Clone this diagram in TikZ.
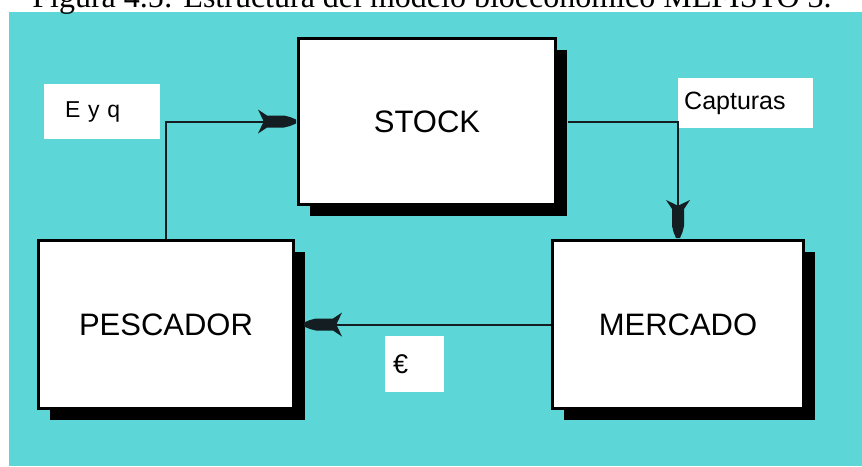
\documentclass[tikz,border=0pt]{standalone}
\usepackage{fontspec}
\setmainfont{Liberation Sans}
\newfontfamily\titlefont{Liberation Serif}
\usetikzlibrary{shadows}
\definecolor{cyanbg}{RGB}{92,214,214}
\definecolor{linecol}{RGB}{20,30,34}
\tikzset{
  mainbox/.style={rectangle, draw=black, line width=3pt, fill=white,
    font=\fontsize{31}{36}\selectfont,
    drop shadow={shadow xshift=11pt, shadow yshift=-11pt, fill=black, opacity=1}},
  labelbox/.style={rectangle, fill=white, anchor=west, align=left},
  conn/.style={draw=linecol, line width=2pt},
  fishtip/.pic={\fill[linecol] (0,-2)--(0,2)--(-6,4.5)--(-12,6)--(-29,6)--(-38,12)--(-33,1.5)--(-33,-1.5)--(-38,-12)--(-29,-6)--(-12,-6)--(-6,-4.5)--cycle;}
}
\begin{document}
\begin{tikzpicture}[x=1pt,y=1pt]
\useasboundingbox (0,0) rectangle (862,-466);
\clip (0,0) rectangle (862,-466);
\fill[white] (0,0) rectangle (862,-466);
\fill[cyanbg] (9,-12) rectangle (862,-466);
\node[font=\fontsize{32}{38}\selectfont\titlefont, anchor=base, inner sep=0pt] (title) at (432,-7) {Figura 4.5: Estructura del modelo bioeconómico MEFISTO 3.};

% label boxes
\node[labelbox, font=\fontsize{23}{27}\selectfont, minimum height=55pt, text width=74pt, inner xsep=21pt] (eyq) at (44,-111.5) {E y q};
\node[labelbox, font=\fontsize{25}{29}\selectfont, minimum height=50pt, text width=123pt, inner xsep=6pt] (capt) at (678,-103) {Capturas};
\node[labelbox, font=\fontsize{27}{31}\selectfont, minimum height=56pt, text width=43pt, inner xsep=8pt] (euro) at (385,-364) {€};

% main boxes
\node[mainbox, minimum width=257pt, minimum height=166pt] (stock) at (427,-121.5) {STOCK};
\node[mainbox, minimum width=255pt, minimum height=168pt] (pesc) at (166,-324.5) {PESCADOR};
\node[mainbox, minimum width=251pt, minimum height=168pt] (merc) at (678,-324.5) {MERCADO};

% connectors
\draw[conn] (pesc.north) |- ([xshift=-20pt]stock.west);
\draw[conn] ([xshift=11pt]stock.east) -| ([yshift=20pt]merc.north);
\draw[conn] (merc.west) -- ([xshift=30pt]pesc.east);
\pic at ([xshift=-1pt]stock.west) {fishtip};
\pic[rotate=-90] at ([yshift=1pt]merc.north) {fishtip};
\pic[rotate=180] at ([xshift=9pt]pesc.east) {fishtip};
\end{tikzpicture}
\end{document}
